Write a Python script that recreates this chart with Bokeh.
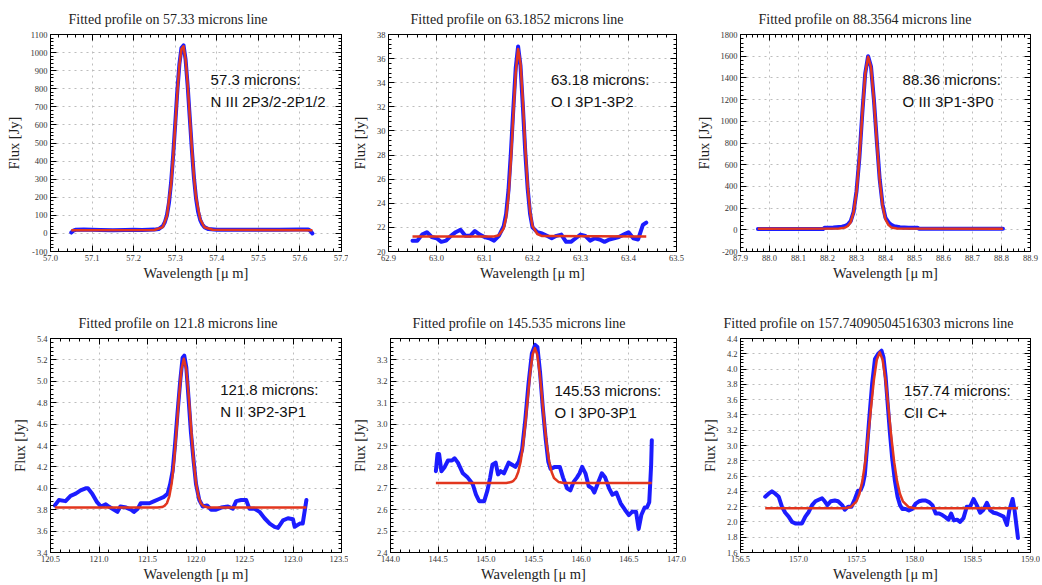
from bokeh.plotting import figure
from bokeh.models import (Range1d, LinearAxis, SingleIntervalTicker, PrintfTickFormatter,
                          CustomJSTickFormatter, Label)
from bokeh.layouts import column, row
from bokeh.embed import file_html
from bokeh.resources import INLINE

# ---------------- data ----------------
titles = ["Fitted profile on 57.33 microns line",
          "Fitted profile on 63.1852 microns line",
          "Fitted profile on 88.3564 microns line",
          "Fitted profile on 121.8 microns line",
          "Fitted profile on 145.535 microns line",
          "Fitted profile on 157.74090504516303 microns line"]
notes_line1 = ["57.3 microns:", "63.18 microns:", "88.36 microns:",
               "121.8 microns:", "145.53 microns:", "157.74 microns:"]
notes_line2 = ["N III 2P3/2-2P1/2", "O I 3P1-3P2", "O III 3P1-3P0",
               "N II 3P2-3P1", "O I 3P0-3P1", "CII C+"]

x_ranges = [(57.0, 57.7), (62.9, 63.5), (87.9, 88.9), (120.5, 123.5), (144.0, 147.0), (156.5, 159.0)]
y_ranges = [(-100, 1100), (20, 38), (-200, 1800), (3.4, 5.4), (2.4, 3.4), (1.6, 4.4)]
x_steps = [0.1, 0.1, 0.1, 0.5, 0.5, 0.5]
y_steps = [100, 2, 200, 0.2, 0.1, 0.2]
y_formats = ["%d", "%d", "%d", "%.1f", "%.1f", "%.1f"]

p1_wl = [57.050, 57.055, 57.060, 57.080, 57.100, 57.120, 57.150, 57.180, 57.200, 57.220, 57.250, 57.260,
         57.270, 57.275, 57.280, 57.285, 57.290, 57.295, 57.300, 57.305, 57.310, 57.315, 57.320, 57.325,
         57.330, 57.335, 57.340, 57.345, 57.350, 57.355, 57.360, 57.365, 57.370, 57.380, 57.400, 57.450,
         57.500, 57.550, 57.600, 57.620, 57.625, 57.630]
p1_flux = [5, 15, 20, 21, 20, 19, 18, 19, 20, 19, 21, 24,
           40, 62, 100, 170, 280, 430, 605, 785, 935, 1025, 1040, 960,
           815, 640, 465, 310, 195, 120, 75, 50, 35, 24, 20, 20,
           20, 20, 22, 22, 15, 0]
p1_fit_wl = [57.050, 57.250, 57.270, 57.280, 57.290, 57.295, 57.300, 57.305, 57.310, 57.315, 57.320,
             57.325, 57.330, 57.335, 57.340, 57.345, 57.350, 57.360, 57.370, 57.390, 57.630]
p1_fit = [18, 19, 35, 95, 270, 420, 595, 775, 930, 1020, 1035,
          960, 820, 645, 470, 315, 200, 80, 34, 20, 18]

p2_wl = [62.950, 62.960, 62.970, 62.980, 62.990, 63.000, 63.010, 63.020, 63.030, 63.040,
         63.050, 63.060, 63.070, 63.080, 63.090, 63.100, 63.110, 63.120, 63.130, 63.140,
         63.145, 63.150, 63.155, 63.160, 63.165, 63.170, 63.175, 63.180, 63.185, 63.190, 63.195, 63.200,
         63.210, 63.220, 63.230, 63.240, 63.250, 63.260, 63.270, 63.280, 63.290, 63.300,
         63.310, 63.320, 63.330, 63.340, 63.350, 63.360, 63.370, 63.380, 63.390, 63.400,
         63.410, 63.420, 63.430, 63.437]
p2_flux = [20.9, 20.9, 21.4, 21.6, 21.2, 21.1, 20.8, 20.9, 21.3, 21.6,
           21.8, 21.3, 21.3, 21.7, 21.4, 21.2, 21.1, 20.9, 21.3, 22.1,
           23.1, 25.1, 28.2, 31.8, 35.2, 37.0, 35.4, 32.0, 28.2, 25.2, 23.1, 22.0,
           21.6, 21.5, 21.3, 21.1, 21.3, 21.4, 20.8, 20.8, 21.1, 21.4,
           21.3, 20.9, 21.1, 21.0, 20.8, 21.0, 21.1, 21.2, 21.4, 21.6,
           21.1, 21.0, 22.2, 22.4]
p2_fit_wl = [62.950, 63.120, 63.130, 63.140, 63.145, 63.150, 63.155, 63.160, 63.165, 63.170,
             63.175, 63.180, 63.185, 63.190, 63.195, 63.200, 63.210, 63.220, 63.437]
p2_fit = [21.25, 21.25, 21.35, 21.9, 22.8, 24.6, 27.6, 31.3, 34.8, 36.8,
          35.6, 32.4, 28.6, 25.4, 23.3, 22.1, 21.45, 21.28, 21.25]

p3_wl = [87.960, 88.000, 88.050, 88.100, 88.150, 88.185, 88.190, 88.220, 88.250, 88.260,
         88.270, 88.280, 88.290, 88.300, 88.310, 88.320, 88.330, 88.340, 88.350, 88.360,
         88.370, 88.380, 88.390, 88.400, 88.410, 88.420, 88.430, 88.450, 88.480, 88.510,
         88.515, 88.550, 88.600, 88.650, 88.700, 88.750, 88.805]
p3_flux = [8, 8, 8, 8, 8, 8, 20, 22, 28, 35,
           48, 80, 165, 355, 665, 1075, 1440, 1600, 1505, 1200,
           820, 465, 230, 110, 70, 45, 32, 24, 20, 20,
           10, 10, 10, 10, 10, 10, 10]
p3_fit_wl = [87.960, 88.240, 88.260, 88.270, 88.280, 88.290, 88.300, 88.310, 88.320, 88.330,
             88.340, 88.350, 88.360, 88.370, 88.380, 88.390, 88.400, 88.410, 88.420, 88.440, 88.805]
p3_fit = [10, 11, 20, 35, 70, 160, 350, 660, 1070, 1435,
          1595, 1500, 1195, 815, 460, 220, 95, 45, 22, 12, 10]

p4_wl = [120.545, 120.586, 120.655, 120.707, 120.760, 120.810, 120.862, 120.886, 120.930, 120.980,
         121.020, 121.070, 121.100, 121.155, 121.190, 121.220, 121.280, 121.330, 121.360, 121.400,
         121.430, 121.480, 121.520, 121.570, 121.620, 121.670, 121.707, 121.734, 121.759, 121.783,
         121.810, 121.838, 121.862, 121.879, 121.900, 121.924, 121.948, 121.976, 122.000, 122.034,
         122.070, 122.114, 122.155, 122.207, 122.260, 122.330, 122.380, 122.414, 122.466, 122.517,
         122.550, 122.600, 122.655, 122.707, 122.760, 122.810, 122.845, 122.897, 122.948, 123.000,
         123.017, 123.070, 123.100, 123.138]
p4_flux = [3.84, 3.89, 3.88, 3.93, 3.95, 3.98, 4.00, 4.00, 3.95, 3.87,
           3.83, 3.85, 3.83, 3.80, 3.78, 3.83, 3.82, 3.80, 3.78, 3.81,
           3.86, 3.86, 3.86, 3.88, 3.90, 3.92, 3.95, 4.04, 4.16, 4.40,
           4.71, 5.01, 5.22, 5.24, 5.13, 4.83, 4.52, 4.25, 4.04, 3.89,
           3.83, 3.84, 3.80, 3.80, 3.82, 3.83, 3.81, 3.88, 3.89, 3.89,
           3.81, 3.81, 3.78, 3.72, 3.67, 3.64, 3.63, 3.70, 3.72, 3.71,
           3.64, 3.67, 3.67, 3.89]
p4_fit_wl = [120.545, 121.600, 121.650, 121.675, 121.700, 121.725, 121.750, 121.775, 121.800, 121.825,
             121.850, 121.875, 121.900, 121.925, 121.950, 121.975, 122.000, 122.025, 122.050, 122.075,
             122.125, 123.138]
p4_fit = [3.82, 3.82, 3.825, 3.835, 3.86, 3.925, 4.05, 4.26, 4.55, 4.86,
          5.11, 5.21, 5.11, 4.86, 4.55, 4.26, 4.05, 3.925, 3.86, 3.835,
          3.82, 3.82]

p5_wl = [144.476, 144.493, 144.510, 144.534, 144.569, 144.603, 144.645, 144.672, 144.707, 144.759,
         144.810, 144.862, 144.897, 144.930, 144.983, 145.017, 145.045, 145.069, 145.103, 145.128,
         145.155, 145.190, 145.240, 145.276, 145.310, 145.345, 145.380, 145.414, 145.448, 145.483,
         145.517, 145.541, 145.569, 145.597, 145.628, 145.655, 145.679, 145.724, 145.776, 145.810,
         145.852, 145.886, 145.921, 145.955, 145.983, 146.010, 146.045, 146.079, 146.114, 146.138,
         146.172, 146.217, 146.252, 146.293, 146.328, 146.369, 146.414, 146.459, 146.500, 146.534,
         146.576, 146.603, 146.631, 146.666, 146.690, 146.714, 146.724, 146.734, 146.741]
p5_flux = [2.78, 2.86, 2.86, 2.78, 2.80, 2.83, 2.83, 2.84, 2.82, 2.77,
           2.75, 2.72, 2.67, 2.64, 2.64, 2.69, 2.75, 2.81, 2.82, 2.765,
           2.78, 2.77, 2.82, 2.81, 2.80, 2.825, 2.88, 3.02, 3.19, 3.33,
           3.37, 3.36, 3.24, 3.08, 2.93, 2.825, 2.79, 2.80, 2.80, 2.75,
           2.70, 2.69, 2.73, 2.75, 2.77, 2.80, 2.77, 2.71, 2.70, 2.68,
           2.72, 2.77, 2.75, 2.70, 2.67, 2.68, 2.63, 2.60, 2.575, 2.59,
           2.59, 2.51, 2.575, 2.61, 2.61, 2.635, 2.72, 2.81, 2.925]
p5_fit_wl = [144.476, 145.215, 145.265, 145.290, 145.315, 145.340, 145.365, 145.390, 145.415, 145.440,
             145.465, 145.490, 145.515, 145.540, 145.565, 145.590, 145.615, 145.640, 145.665, 145.690,
             145.715, 145.765, 145.815, 146.741]
p5_fit = [2.725, 2.725, 2.729, 2.735, 2.748, 2.776, 2.824, 2.900, 3.002, 3.122,
          3.238, 3.324, 3.355, 3.324, 3.238, 3.122, 3.002, 2.900, 2.824, 2.776,
          2.748, 2.729, 2.725, 2.725]

p6_wl = [156.713, 156.742, 156.771, 156.800, 156.829, 156.857, 156.886, 156.915, 156.944, 156.973,
         157.001, 157.030, 157.059, 157.088, 157.117, 157.146, 157.174, 157.203, 157.226, 157.249,
         157.278, 157.313, 157.341, 157.376, 157.399, 157.428, 157.457, 157.486, 157.514, 157.537,
         157.555, 157.572, 157.592, 157.612, 157.635, 157.659, 157.687, 157.716, 157.733, 157.751,
         157.768, 157.788, 157.808, 157.831, 157.854, 157.875, 157.895, 157.924, 157.952, 157.981,
         158.010, 158.039, 158.068, 158.096, 158.125, 158.154, 158.183, 158.212, 158.240, 158.269,
         158.293, 158.316, 158.339, 158.367, 158.393, 158.422, 158.451, 158.480, 158.509, 158.537,
         158.566, 158.595, 158.624, 158.653, 158.682, 158.710, 158.739, 158.768, 158.797, 158.817,
         158.846, 158.863, 158.892]
p6_flux = [2.33, 2.37, 2.40, 2.37, 2.33, 2.20, 2.12, 2.07, 2.00, 1.98,
           1.98, 1.98, 2.07, 2.13, 2.22, 2.27, 2.29, 2.31, 2.27, 2.22,
           2.27, 2.28, 2.27, 2.22, 2.16, 2.20, 2.20, 2.30, 2.41, 2.42,
           2.49, 2.62, 3.00, 3.39, 3.81, 4.13, 4.20, 4.24, 4.15, 3.90,
           3.56, 3.17, 2.83, 2.54, 2.33, 2.22, 2.17, 2.17, 2.15, 2.17,
           2.24, 2.27, 2.28, 2.28, 2.26, 2.22, 2.11, 2.11, 2.09, 2.06,
           2.03, 2.11, 2.02, 2.03, 2.00, 2.05, 2.20, 2.20, 2.30, 2.22,
           2.12, 2.16, 2.25, 2.15, 2.12, 2.11, 2.09, 2.07, 1.96, 2.15,
           2.30, 2.15, 1.79]
p6_fit_wl = [156.713, 157.400, 157.450, 157.500, 157.525, 157.550, 157.575, 157.600, 157.625, 157.650,
             157.675, 157.700, 157.725, 157.750, 157.775, 157.800, 157.825, 157.850, 157.875, 157.900,
             157.950, 158.000, 158.892]
p6_fit = [2.18, 2.18, 2.195, 2.27, 2.366, 2.531, 2.782, 3.114, 3.494, 3.859,
          4.122, 4.22, 4.122, 3.859, 3.494, 3.114, 2.782, 2.531, 2.366, 2.27,
          2.195, 2.18, 2.18]

observed = [(p1_wl, p1_flux), (p2_wl, p2_flux), (p3_wl, p3_flux),
            (p4_wl, p4_flux), (p5_wl, p5_flux), (p6_wl, p6_flux)]
fitted = [(p1_fit_wl, p1_fit), (p2_fit_wl, p2_fit), (p3_fit_wl, p3_fit),
          (p4_fit_wl, p4_fit), (p5_fit_wl, p5_fit), (p6_fit_wl, p6_fit)]

# ---------------- layout / style ----------------
SERIF = "Liberation Serif"
SANS = "Liberation Sans"
BLUE = "#1c1cff"
RED = "#e2361e"

widths = [348, 344, 348]
b_left = [50, 40, 48]
b_right = [7, 16, 10]
heights = [292, 292]
b_top = [34, 46]
b_bottom = [41, 29]
title_offsets = [18, 22, 18, 28, 22, -17]
note_fx = [0.55, 0.564, 0.559, 0.583, 0.573, 0.564]
note_fy = [0.206, 0.206, 0.206, 0.239, 0.243, 0.243]


def style_ticks(ax):
    ax.major_tick_in = 6
    ax.major_tick_out = 0
    ax.minor_tick_in = 3
    ax.minor_tick_out = 0
    ax.major_tick_line_color = "black"
    ax.minor_tick_line_color = "black"
    ax.axis_line_color = "black"


def make_panel(i):
    r, c = divmod(i, 3)
    xr, yr = x_ranges[i], y_ranges[i]
    p = figure(width=widths[c], height=heights[r], output_backend="svg", toolbar_location=None,
               x_range=Range1d(*xr), y_range=Range1d(*yr),
               min_border_left=b_left[c], min_border_right=b_right[c],
               min_border_top=b_top[r], min_border_bottom=b_bottom[r],
               x_axis_label="Wavelength [\u03bc m]", y_axis_label="Flux [Jy]")
    p.background_fill_color = "white"
    p.border_fill_color = "white"
    p.outline_line_color = "black"
    p.outline_line_width = 1

    xt = SingleIntervalTicker(interval=x_steps[i], num_minor_ticks=5)
    yt = SingleIntervalTicker(interval=y_steps[i], num_minor_ticks=5)
    p.xaxis.ticker = xt
    p.yaxis.ticker = yt
    p.xaxis.formatter = PrintfTickFormatter(format="%.1f")
    p.yaxis.formatter = PrintfTickFormatter(format=y_formats[i])
    for ax in (p.xaxis[0], p.yaxis[0]):
        style_ticks(ax)
        ax.major_label_text_font = SERIF
        ax.major_label_text_font_size = "8.5px"
        ax.major_label_text_color = "#333333"
        ax.major_label_standoff = 3
        ax.axis_label_text_font = SERIF
        ax.axis_label_text_font_size = "14.5px"
        ax.axis_label_text_font_style = "normal"
        ax.axis_label_text_color = "#222222"
    p.xaxis.axis_label_standoff = 1
    p.yaxis.axis_label_standoff = 6

    for loc, tk in (("above", xt), ("right", yt)):
        ax = LinearAxis(ticker=tk, formatter=CustomJSTickFormatter(code="return ''"),
                        major_label_text_font_size="0px", major_label_standoff=0)
        style_ticks(ax)
        p.add_layout(ax, loc)

    for g in (p.xgrid[0], p.ygrid[0]):
        g.grid_line_color = "#bdbdbd"
        g.grid_line_dash = "dotted"
        g.grid_line_width = 1

    p.title.text = titles[i]
    p.title.text_font = SERIF
    p.title.text_font_size = "14px"
    p.title.text_font_style = "normal"
    p.title.text_color = "#222222"
    p.title.align = "left"
    p.title.offset = title_offsets[i]
    p.title.standoff = 16

    wl, fl = observed[i]
    p.line(wl, fl, line_width=4, color=BLUE, line_join="round", line_cap="round")
    fw, ff = fitted[i]
    p.line(fw, ff, line_width=2.5, color=RED, line_join="round")

    lx = xr[0] + note_fx[i] * (xr[1] - xr[0])
    frame_h = heights[r] - b_top[r] - b_bottom[r]
    dy = 22.0 / frame_h
    for k, txt in enumerate((notes_line1[i], notes_line2[i])):
        fy = note_fy[i] + k * dy
        ly = yr[1] - fy * (yr[1] - yr[0])
        p.add_layout(Label(x=lx, y=ly, text=txt, text_font=SANS, text_font_size="15px",
                           text_color="#111111", text_baseline="middle", text_align="left"))
    return p


panels = [make_panel(i) for i in range(6)]
layout = column(row(*panels[:3]), row(*panels[3:]))

open("out.html", "w").write(file_html(layout, INLINE))
